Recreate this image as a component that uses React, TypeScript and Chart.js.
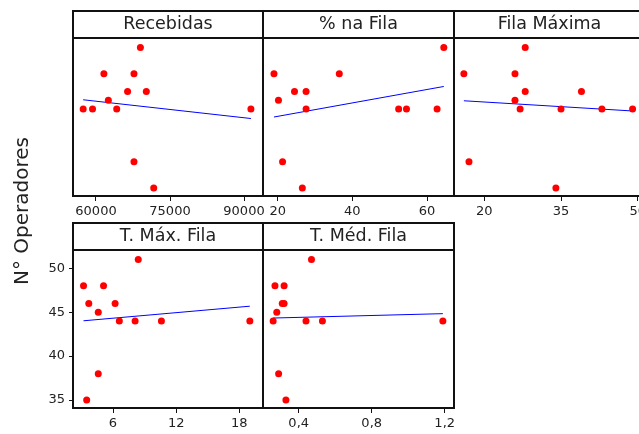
import React, { useEffect, useRef } from "react";
import { Chart, registerables } from "chart.js";

Chart.register(...registerables);

// ---- data (one entry per observation) ----
const operadores = [51, 48, 48, 46, 46, 45, 44, 44, 44, 44, 38, 35];
const recebidas = [69000, 61600, 67700, 66400, 70200, 62500, 57400, 59300, 64200, 91400, 67700, 71700];
const pctFila = [64.5, 19.0, 36.5, 24.5, 27.6, 20.2, 27.6, 52.4, 54.5, 62.7, 21.3, 26.6];
const filaMaxima = [28, 16, 26, 28, 39, 26, 27, 35, 43, 49, 17, 34];
const tMaxFila = [8.4, 3.2, 5.1, 3.7, 6.2, 4.6, 6.6, 8.1, 10.6, 19.0, 4.6, 3.5];
const tMedFila = [0.47, 0.27, 0.32, 0.31, 0.32, 0.28, 0.26, 0.44, 0.53, 1.19, 0.29, 0.33];

// ---- tick labels ----
const yTicks = [35, 40, 45, 50];
const recebidasTicks = [60000, 75000, 90000];
const pctFilaTicks = [20, 40, 60];
const filaMaximaTicks = [20, 35, 50];
const tMaxTicks = [6, 12, 18];
const tMedTicks = [0.4, 0.8, 1.2];

const Y_MIN = 34.09;
const Y_MAX = 52.08;

const FONT = "'DejaVu Sans', sans-serif";
const HEADER_H = 27;
const PLOT_H = 158;
const AXIS_H = 32;
const PAD = 2;
const INK = "#111";
const TEXT = "#222";

type PanelProps = {
  title: string;
  xs: number[];
  xTicks: number[];
  xMin: number;
  xMax: number;
  fmt: (v: number) => string;
  left: number;
  top: number;
  width: number;
  showY: boolean;
};

function Panel(p: PanelProps) {
  const ref = useRef<HTMLCanvasElement>(null);
  const padL = p.showY ? 60 : PAD;
  const cw = padL + p.width + PAD;
  const ch = PAD + HEADER_H + PLOT_H + AXIS_H;
  const cssLeft = p.left - padL;
  const cssTop = p.top - PAD;

  useEffect(() => {
    const canvas = ref.current as HTMLCanvasElement;
    const xs = p.xs;
    const ys = operadores;
    const n = xs.length;
    const mx = xs.reduce((a, b) => a + b, 0) / n;
    const my = ys.reduce((a, b) => a + b, 0) / n;
    let sxy = 0;
    let sxx = 0;
    for (let i = 0; i < n; i++) {
      sxy += (xs[i] - mx) * (ys[i] - my);
      sxx += (xs[i] - mx) * (xs[i] - mx);
    }
    const b = sxy / sxx;
    const a = my - b * mx;
    const lo = Math.min(...xs);
    const hi = Math.max(...xs);

    const boxPlugin = {
      id: "panelBox",
      afterDraw(chart: any) {
        const { ctx, chartArea: ar } = chart;
        ctx.save();
        ctx.strokeStyle = INK;
        ctx.lineWidth = 2;
        ctx.strokeRect(ar.left, ar.top - HEADER_H, ar.right - ar.left, HEADER_H);
        ctx.strokeRect(ar.left, ar.top, ar.right - ar.left, ar.bottom - ar.top);
        ctx.restore();
      },
    };

    const zeroPad = (s: any) => {
      s.paddingLeft = 0;
      s.paddingRight = 0;
      s.paddingTop = 0;
      s.paddingBottom = 0;
    };

    const build = () =>
      new Chart(canvas, {
        type: "scatter",
        data: {
          datasets: [
            {
              data: xs.map((x, i) => ({ x, y: ys[i] })),
              backgroundColor: "#ff0000",
              borderWidth: 0,
              pointRadius: 3.5,
              order: 1,
            },
            {
              data: [
                { x: lo, y: a + b * lo },
                { x: hi, y: a + b * hi },
              ],
              showLine: true,
              borderColor: "#0000ff",
              borderWidth: 1,
              pointRadius: 0,
              order: 2,
            },
          ],
        },
        options: {
          responsive: false,
          animation: false,
          devicePixelRatio: 1,
          layout: { padding: { top: PAD, left: p.showY ? 0 : PAD, right: PAD, bottom: 0 } },
          plugins: {
            legend: { display: false },
            tooltip: { enabled: false },
            title: {
              display: true,
              text: p.title,
              fullSize: false,
              color: TEXT,
              font: { family: FONT, size: 17.5, weight: "normal", lineHeight: 1 },
              padding: { top: 4.75, bottom: 4.75 },
            },
          },
          scales: {
            x: {
              type: "linear",
              min: p.xMin,
              max: p.xMax,
              afterBuildTicks: (s: any) => {
                s.ticks = p.xTicks.map((v) => ({ value: v }));
              },
              afterFit: (s: any) => {
                s.height = AXIS_H;
                zeroPad(s);
              },
              ticks: {
                autoSkip: false,
                maxRotation: 0,
                minRotation: 0,
                padding: 3,
                color: TEXT,
                font: { family: FONT, size: 13 },
                callback: (v: any) => p.fmt(Number(v)),
              },
              grid: { drawOnChartArea: false, drawTicks: true, tickLength: 5, color: INK, lineWidth: 1 },
              border: { display: false },
            },
            y: {
              type: "linear",
              display: p.showY,
              min: Y_MIN,
              max: Y_MAX,
              afterBuildTicks: (s: any) => {
                s.ticks = yTicks.map((v) => ({ value: v }));
              },
              afterFit: (s: any) => {
                s.width = p.showY ? padL : 0;
                zeroPad(s);
              },
              ticks: {
                autoSkip: false,
                padding: 4,
                color: TEXT,
                font: { family: FONT, size: 13 },
                callback: (v: any) => String(v),
              },
              grid: { drawOnChartArea: false, drawTicks: true, tickLength: 4, color: INK, lineWidth: 1 },
              border: { display: false },
            },
          },
        } as any,
        plugins: [boxPlugin],
      } as any);

    let chart = build();
    // measure where the plot area landed and resize / shift the canvas so it sits exactly on the panel
    const ar = chart.chartArea;
    const dl = Math.round(ar.left - padL);
    const dr = Math.round(padL + p.width - ar.right);
    const dt = Math.round(ar.top - (PAD + HEADER_H));
    const db = Math.round(PAD + HEADER_H + PLOT_H - ar.bottom);
    if (dl || dr || dt || db) {
      chart.destroy();
      const nw = cw + dl + dr;
      const nh = ch + dt + db;
      canvas.width = nw;
      canvas.height = nh;
      canvas.style.width = nw + "px";
      canvas.style.height = nh + "px";
      canvas.style.left = cssLeft - dl + "px";
      canvas.style.top = cssTop - dt + "px";
      chart = build();
    }
    return () => chart.destroy();
  }, []);

  return (
    <canvas
      ref={ref}
      width={cw}
      height={ch}
      style={{
        position: "absolute",
        left: cssLeft,
        top: cssTop,
        width: cw,
        height: ch,
      }}
    />
  );
}

const plain = (v: number) => String(v);
const comma = (v: number) => v.toFixed(1).replace(".", ",");

export default function App() {
  return (
    <div
      style={{
        position: "fixed",
        left: 0,
        top: 0,
        width: 639,
        height: 434,
        overflow: "hidden",
        background: "#ffffff",
      }}
    >
      <Panel title="Recebidas" xs={recebidas} xTicks={recebidasTicks} xMin={55338} xMax={93851} fmt={plain} left={73} top={11} width={190} showY={false} />
      <Panel title="% na Fila" xs={pctFila} xTicks={pctFilaTicks} xMin={16.06} xMax={67.23} fmt={plain} left={263} top={11} width={191} showY={false} />
      <Panel title="Fila Máxima" xs={filaMaxima} xTicks={filaMaximaTicks} xMin={14.07} xMax={51.43} fmt={plain} left={454} top={11} width={191} showY={false} />
      <Panel title="T. Máx. Fila" xs={tMaxFila} xTicks={tMaxTicks} xMin={2.2} xMax={20.25} fmt={plain} left={73} top={223} width={190} showY={true} />
      <Panel title="T. Méd. Fila" xs={tMedFila} xTicks={tMedTicks} xMin={0.2044} xMax={1.251} fmt={comma} left={263} top={223} width={191} showY={false} />
      <div
        style={{
          position: "absolute",
          left: 20.5 - 100,
          top: 211 - 12,
          width: 200,
          height: 24,
          lineHeight: "24px",
          textAlign: "center",
          transform: "rotate(-90deg)",
          fontFamily: FONT,
          fontSize: 20,
          color: TEXT,
          whiteSpace: "nowrap",
        }}
      >
        N° Operadores
      </div>
    </div>
  );
}
